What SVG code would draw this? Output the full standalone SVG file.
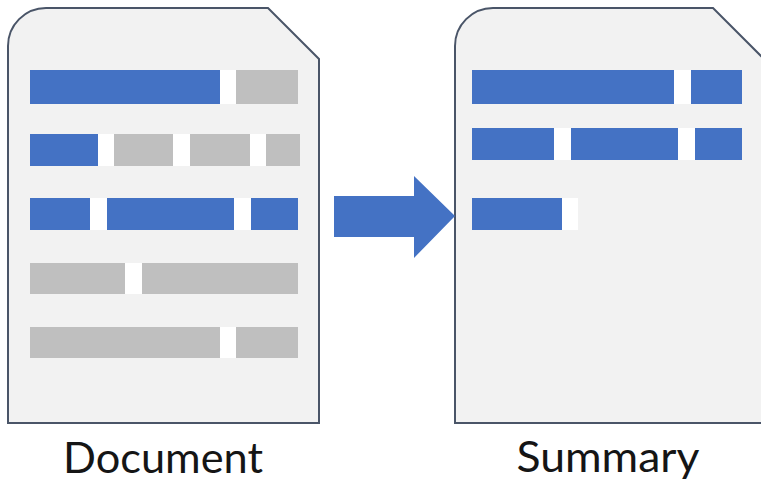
<svg xmlns="http://www.w3.org/2000/svg" width="761" height="482" viewBox="0 0 761 482">
<style>
.page{fill:#F2F2F2;stroke:#4A5568;stroke-width:2}
.b{fill:#4472C4}
.g{fill:#BFBFBF}
.w{fill:#FFFFFF}
.lbl{font-family:Lato,"Open Sans",sans-serif;font-size:42px;fill:#151515;text-anchor:middle}
</style>
<rect x="0" y="0" width="761" height="482" fill="#FFFFFF"/>
<g id="document">
<path class="page" d="M8,46 A38,38 0 0 1 46,8 L268,8 L319,59 L319,423 L8,423 Z"/>
<rect class="b" x="30" y="70" width="190" height="34"/>
<rect class="w" x="220" y="70" width="16" height="34"/>
<rect class="g" x="236" y="70" width="62" height="34"/>
<rect class="b" x="30" y="134" width="68" height="32"/>
<rect class="w" x="98" y="134" width="16" height="32"/>
<rect class="g" x="114" y="134" width="59" height="32"/>
<rect class="w" x="173" y="134" width="17" height="32"/>
<rect class="g" x="190" y="134" width="60" height="32"/>
<rect class="w" x="250" y="134" width="16" height="32"/>
<rect class="g" x="266" y="134" width="34" height="32"/>
<rect class="b" x="30" y="198" width="60" height="32"/>
<rect class="w" x="90" y="198" width="17" height="32"/>
<rect class="b" x="107" y="198" width="127" height="32"/>
<rect class="w" x="234" y="198" width="17" height="32"/>
<rect class="b" x="251" y="198" width="47" height="32"/>
<rect class="g" x="30" y="263" width="95" height="31"/>
<rect class="w" x="125" y="263" width="17" height="31"/>
<rect class="g" x="142" y="263" width="156" height="31"/>
<rect class="g" x="30" y="327" width="190" height="31"/>
<rect class="w" x="220" y="327" width="16" height="31"/>
<rect class="g" x="236" y="327" width="62" height="31"/>
<text class="lbl" x="163" y="473" textLength="200" lengthAdjust="spacingAndGlyphs">Document</text>
</g>
<g id="summary">
<path class="page" d="M455,46 A38,38 0 0 1 493,8 L713,8 L764,59 L764,423 L455,423 Z"/>
<rect class="b" x="472" y="70" width="202" height="34"/>
<rect class="w" x="674" y="70" width="17" height="34"/>
<rect class="b" x="691" y="70" width="51" height="34"/>
<rect class="b" x="472" y="128" width="82" height="32"/>
<rect class="w" x="554" y="128" width="17" height="32"/>
<rect class="b" x="571" y="128" width="107" height="32"/>
<rect class="w" x="678" y="128" width="17" height="32"/>
<rect class="b" x="695" y="128" width="47" height="32"/>
<rect class="b" x="472" y="198" width="90" height="32"/>
<rect class="w" x="562" y="198" width="16" height="32"/>
<text class="lbl" x="608" y="472" textLength="183" lengthAdjust="spacingAndGlyphs">Summary</text>
</g>
<g id="connectors">
<path class="b" d="M334,196 L414,196 L414,176 L455,216 L414,258 L414,237 L334,237 Z"/>
</g>
</svg>
